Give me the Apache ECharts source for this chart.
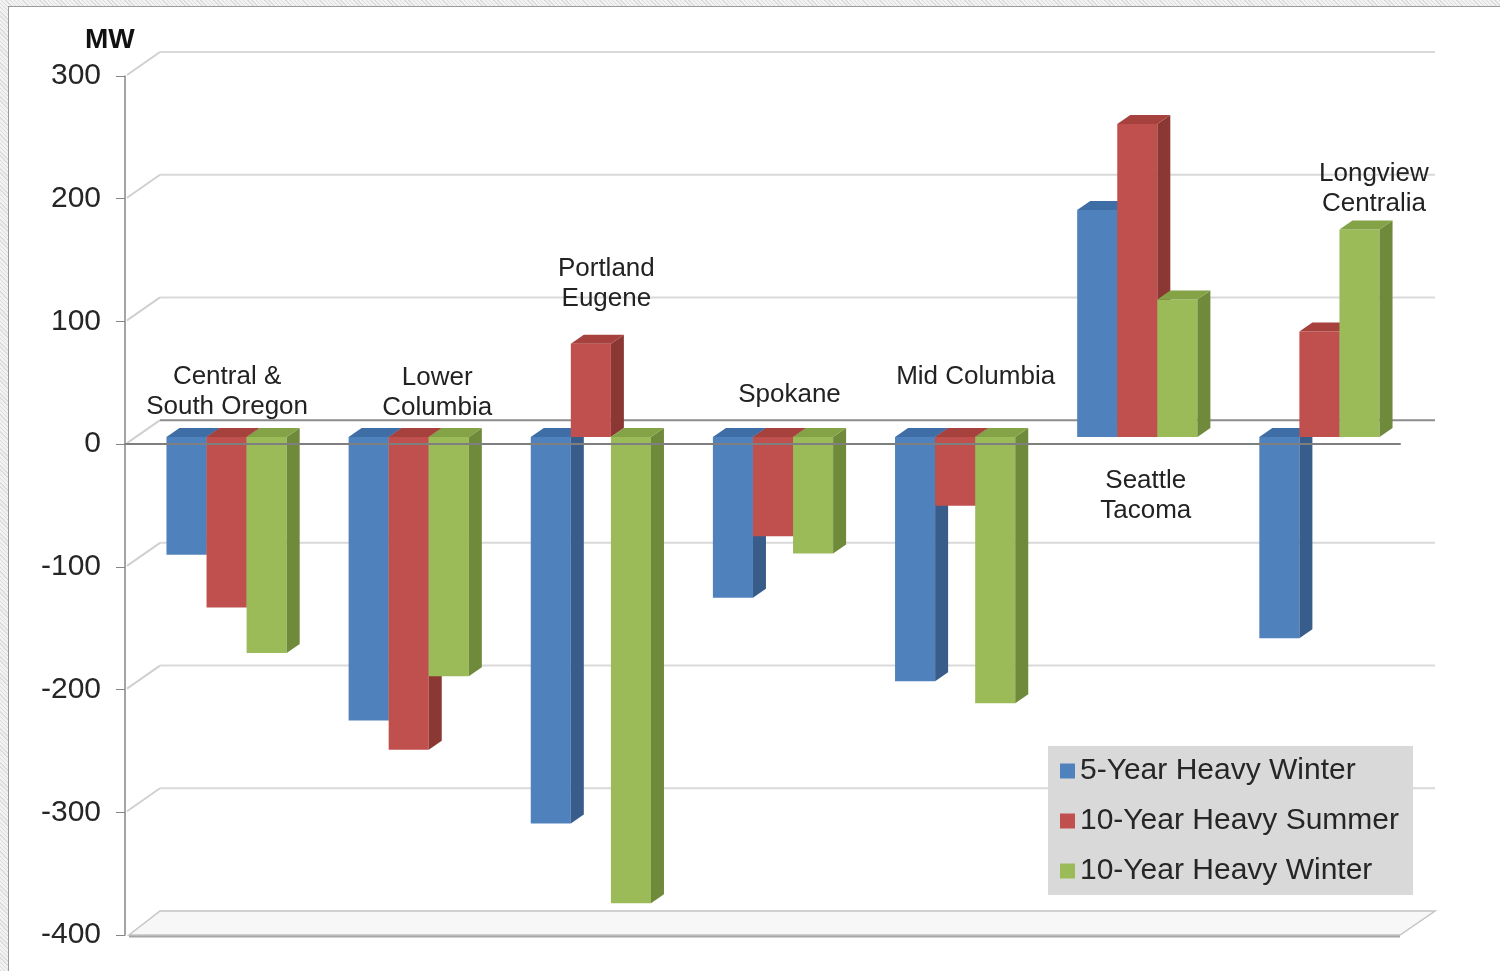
<!DOCTYPE html>
<html>
<head>
<meta charset="utf-8">
<script src="https://cdn.jsdelivr.net/npm/echarts@6/dist/echarts.min.js"></script>
<style>
  html, body { margin: 0; padding: 0; width: 1500px; height: 971px; overflow: hidden;
    background: repeating-linear-gradient(45deg, #dcdcdc 0 1px, #f2f2f2 1px 3px); }
  #frame { position: absolute; left: 8px; top: 6px; width: 1492px; height: 965px;
    background: #fff; border-left: 1px solid #9a9a9a; border-top: 1px solid #9a9a9a; }
  #chart { position: absolute; left: 0; top: 0; width: 1500px; height: 971px; }
</style>
</head>
<body>
<div id="frame"></div>
<div id="chart"></div>
<script>
// data (MW)
const categories = ["Central &\nSouth Oregon", "Lower\nColumbia", "Portland\nEugene", "Spokane",
  "Mid Columbia", "Seattle\nTacoma", "Longview\nCentralia"];
const winter5 = [-96, -231, -315, -131, -199, 185, -164];
const summer10 = [-139, -255, 76, -81, -56, 255, 86];
const winter10 = [-176, -195, -380, -95, -217, 112, 169];
const yTicks = [300, 200, 100, 0, -100, -200, -300, -400];

// where the region names sit: [x offset px from category, height in MW]
const labelAnchors = [[11, 43], [39, 42], [26, 131], [27, 40], [31, 55], [19, -42], [65, 208]];

const FONT = "'Liberation Sans', Arial, sans-serif";
const WALL_DX = 35, WALL_DY = -24;   // depth of the back wall
const BAR_DX = 13, BAR_DY = -9;      // depth of a bar
const BAR_SHIFT = 0.3;               // bars sit a bit back from the front

let myChart = echarts.init(document.getElementById("chart"));

function barSeries(name, values, k, colors) {
  return {
    name: name,
    type: "custom",
    z: 3,
    clip: false,
    itemStyle: { color: colors[0] },
    data: values.map((v, i) => [i, v]),
    renderItem: function (params, api) {
      const i = api.value(0);
      const v = api.value(1);
      const base = api.coord([i, 0]);
      const end = api.coord([i, v]);
      const w = api.size([1, 0])[0] * 0.22;
      const L = base[0] + WALL_DX * BAR_SHIFT + (k - 1.5) * w;
      const y0 = base[1] + WALL_DY * BAR_SHIFT;
      const y1 = end[1] + WALL_DY * BAR_SHIFT;
      const yT = Math.min(y0, y1), yB = Math.max(y0, y1);
      return {
        type: "group",
        children: [
          { type: "rect", shape: { x: L, y: yT, width: w, height: yB - yT },
            style: { fill: colors[0] } },
          { type: "polygon", shape: { points: [[L + w, yT], [L + w + BAR_DX, yT + BAR_DY],
              [L + w + BAR_DX, yB + BAR_DY], [L + w, yB]] },
            style: { fill: colors[1] } },
          { type: "polygon", shape: { points: [[L, yT], [L + BAR_DX, yT + BAR_DY],
              [L + w + BAR_DX, yT + BAR_DY], [L + w, yT]] },
            style: { fill: colors[2] } }
        ]
      };
    }
  };
}

myChart.setOption({
  animation: false,
  title: {
    text: "MW",
    left: 80,
    top: 21,
    textStyle: { fontFamily: FONT, fontSize: 28, fontWeight: "bold", color: "#111" }
  },
  legend: {
    orient: "vertical",
    left: 1048,
    top: 746,
    backgroundColor: "#d9d9d9",
    padding: [10, 14, 9, 12],
    icon: "rect",
    itemWidth: 15,
    itemHeight: 15,
    itemGap: 20,
    data: ["5-Year Heavy Winter", "10-Year Heavy Summer", "10-Year Heavy Winter"],
    textStyle: { fontFamily: FONT, fontSize: 30, color: "#262626" }
  },
  grid: {
    left: 125,
    right: 100,
    top: 76,
    bottom: 36,
    outerBoundsMode: "none"
  },
  xAxis: {
    type: "category",
    data: categories,
    z: 10,
    axisLine: { show: true, onZero: true, lineStyle: { color: "#7f7f7f", width: 2 } },
    axisTick: { show: false },
    axisLabel: { show: false },
    splitLine: { show: false }
  },
  yAxis: {
    type: "value",
    min: -400,
    max: 300,
    interval: 100,
    axisLine: { show: true, lineStyle: { color: "#868686", width: 1.5 } },
    axisTick: { show: true, length: 9, lineStyle: { color: "#868686" } },
    axisLabel: { fontFamily: FONT, fontSize: 30, color: "#262626", margin: 24 },
    splitLine: { show: false }
  },
  series: [
    {
      // back wall grid lines and floor
      type: "custom",
      z: 1,
      silent: true,
      clip: false,
      data: yTicks.map(v => [0, v]),
      renderItem: function (params, api) {
        const v = api.value(1);
        const y = api.coord([0, v])[1];
        const cs = params.coordSys;
        const x0 = cs.x, x1 = cs.x + cs.width;
        if (v === -400) {
          return {
            type: "group",
            children: [
              { type: "polygon", shape: { points: [[x0 + 4, y], [x0 + WALL_DX, y + WALL_DY],
                  [x1 + WALL_DX, y + WALL_DY], [x1, y]] },
                style: { fill: "#f7f7f7", stroke: "#c4c4c4", lineWidth: 1.5 } },
              { type: "line", shape: { x1: x0 + 4, y1: y + 1.5, x2: x1, y2: y + 1.5 },
                style: { stroke: "#a6a6a6", lineWidth: 2 } }
            ]
          };
        }
        return {
          type: "group",
          children: [
            { type: "line", shape: { x1: x0 + 2, y1: y - 1, x2: x0 + WALL_DX, y2: y + WALL_DY },
              style: { stroke: "#d0d0d0", lineWidth: 2 } },
            { type: "line", shape: { x1: x0 + WALL_DX, y1: y + WALL_DY, x2: x1 + WALL_DX, y2: y + WALL_DY },
              style: { stroke: v === 0 ? "#8c8c8c" : "#d9d9d9", lineWidth: 2 } }
          ]
        };
      }
    },
    barSeries("5-Year Heavy Winter", winter5, 0, ["#4F81BD", "#385D8A", "#3F6EA6"]),
    barSeries("10-Year Heavy Summer", summer10, 1, ["#C0504D", "#8B3835", "#A6413E"]),
    barSeries("10-Year Heavy Winter", winter10, 2, ["#9BBB59", "#6E8A3A", "#84A246"]),
    {
      // region names
      type: "custom",
      z: 5,
      silent: true,
      clip: false,
      data: categories.map((c, i) => [i, labelAnchors[i][1]]),
      renderItem: function (params, api) {
        const i = api.value(0);
        const p = api.coord([i, api.value(1)]);
        return {
          type: "text",
          x: p[0] + labelAnchors[i][0],
          y: p[1],
          style: {
            text: categories[i],
            fontFamily: FONT,
            fontSize: 26,
            lineHeight: 30,
            fill: "#222",
            align: "center",
            verticalAlign: "middle"
          }
        };
      }
    }
  ]
});
</script>
</body>
</html>
